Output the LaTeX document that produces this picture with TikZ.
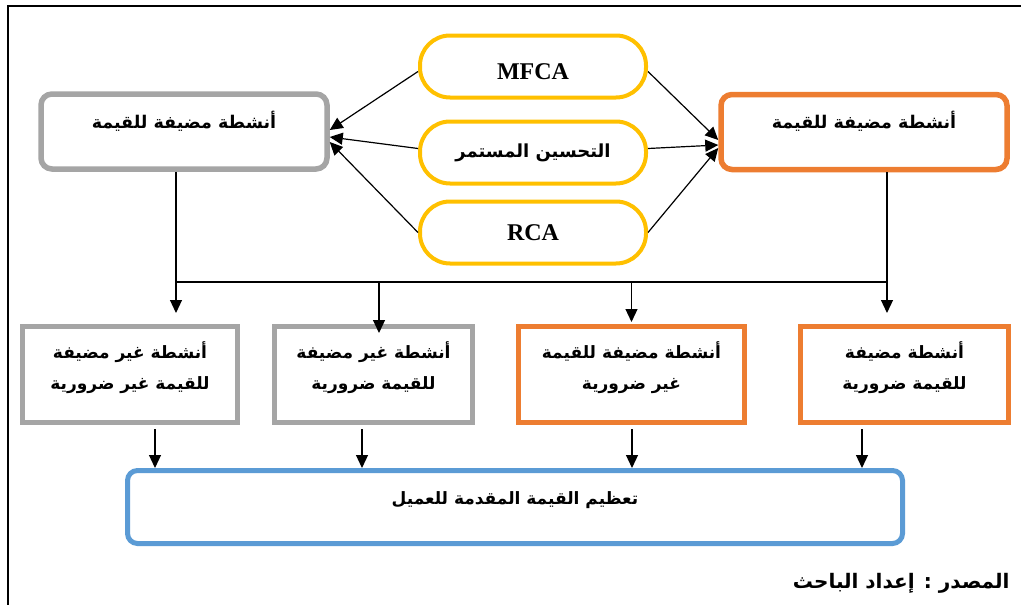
\documentclass[tikz,border=0pt]{standalone}
\usepackage{fontspec}
\setmainfont{Liberation Serif}
\newfontfamily\arabicfont[Script=Arabic]{DejaVu Sans}
\TeXXeTstate=1
\usetikzlibrary{arrows.meta}

\definecolor{boxgray}{HTML}{A5A5A5}
\definecolor{boxorange}{HTML}{ED7D31}
\definecolor{boxyellow}{HTML}{FFC000}
\definecolor{boxblue}{HTML}{5B9BD5}
\newcommand{\ar}[1]{{\arabicfont\bfseries\beginR #1\endR}}

\begin{document}
\begin{tikzpicture}
    [x=1pt,y=-1pt,
     topbox/.style={draw,line width=5.5pt,rounded corners=11pt,minimum width=286pt,minimum height=75pt,
                    text height=13pt,text depth=20pt,font=\fontsize{17.5}{20}\selectfont},
     toolbox/.style={draw=boxyellow,line width=4pt,rounded corners=30pt,minimum width=226pt,minimum height=62pt},
     lowbox/.style={draw,line width=5pt,minimum height=96pt,align=center,text depth=17pt,font=\fontsize{17}{31}\selectfont},
     goalbox/.style={draw=boxblue,line width=5pt,rounded corners=10pt,minimum width=775pt,minimum height=73pt,
                     text height=13pt,text depth=19pt,font=\fontsize{17}{20}\selectfont},
     arr/.style={-{Triangle[width=12pt,length=13pt]},line width=1.2pt}]

    \useasboundingbox (0,0) rectangle (1021,605);
    \draw [line width=2pt] (8,605) -- (8,6) -- (1021,6);

    % value-added boxes
    \node [topbox,draw=boxgray] (lbox) at (184,131.5) {\ar{أنشطة مضيفة للقيمة}};
    \node [topbox,draw=boxorange] (rbox) at (864,132) {\ar{أنشطة مضيفة للقيمة}};

    % tools
    \node [toolbox,font=\fontsize{24}{28}\selectfont\bfseries,text height=25pt,text depth=0pt] (mfca) at (533,66.5) {MFCA};
    \node [toolbox,font=\fontsize{18}{21}\selectfont] (kaizen) at (533,152.5) {\ar{التحسين المستمر}};
    \node [toolbox,font=\fontsize{24}{28}\selectfont\bfseries] (rca) at (533,232.5) {RCA};

    \draw [arr] ([yshift=-5pt]mfca.west) -- ([yshift=1.5pt]lbox.east);
    \draw [arr] ([yshift=4pt]kaizen.west) -- ([yshift=-5.5pt]lbox.east);
    \draw [arr] (rca.west) -- ([yshift=-10.5pt]lbox.east);
    \draw [arr] ([yshift=-5pt]mfca.east) -- ([yshift=-8pt]rbox.west);
    \draw [arr] ([yshift=4pt]kaizen.east) -- ([yshift=-13pt]rbox.west);
    \draw [arr] (rca.east) -- ([yshift=-16pt]rbox.west);

    % activity boxes
    \node [lowbox,draw=boxgray,minimum width=215pt] (b1) at (130,374.5)
          {\ar{أنشطة غير مضيفة}\\\ar{للقيمة غير ضرورية}};
    \node [lowbox,draw=boxgray,minimum width=198pt] (b2) at (373.5,374.5)
          {\ar{أنشطة غير مضيفة}\\\ar{للقيمة ضرورية}};
    \node [lowbox,draw=boxorange,minimum width=226pt] (b3) at (631.5,374.5)
          {\ar{أنشطة مضيفة للقيمة}\\\ar{غير ضرورية}};
    \node [lowbox,draw=boxorange,minimum width=208pt] (b4) at (904.5,374.5)
          {\ar{أنشطة مضيفة}\\\ar{للقيمة ضرورية}};

    \node [goalbox] (goal) at (515,507) {\ar{تعظيم القيمة المقدمة للعميل}};

    \coordinate (jl) at (176,282);
    \coordinate (jr) at (887,282);
    \draw [line width=1.2pt] (lbox.south -| jl) -- (jl) -- (jr) -- (rbox.south -| jr);
    \draw [arr] (jl) -- ([yshift=11pt]b1.north -| jl);
    \draw [arr] ([xshift=5.5pt]b2.north |- jl) -- ([xshift=5.5pt,yshift=-9pt]b2.north);
    \draw [arr] (b3.north |- jl) -- ([yshift=2pt]b3.north);
    \draw [arr] (jr) -- ([yshift=11pt]b4.north -| jr);

    \draw [arr] ([xshift=25pt,yshift=-4pt]b1.south) -- ([xshift=25pt]b1.south |- goal.north);
    \draw [arr] ([xshift=-11.5pt,yshift=-4pt]b2.south) -- ([xshift=-11.5pt]b2.south |- goal.north);
    \draw [arr] ([xshift=0.5pt,yshift=-4pt]b3.south) -- ([xshift=0.5pt]b3.south |- goal.north);
    \draw [arr] ([xshift=-42.5pt,yshift=-4pt]b4.south) -- ([xshift=-42.5pt]b4.south |- goal.north);

    \node [anchor=east,font=\fontsize{20}{23}\selectfont] (src) at (1013,583) {\ar{المصدر : إعداد الباحث}};
\end{tikzpicture}
\end{document}
